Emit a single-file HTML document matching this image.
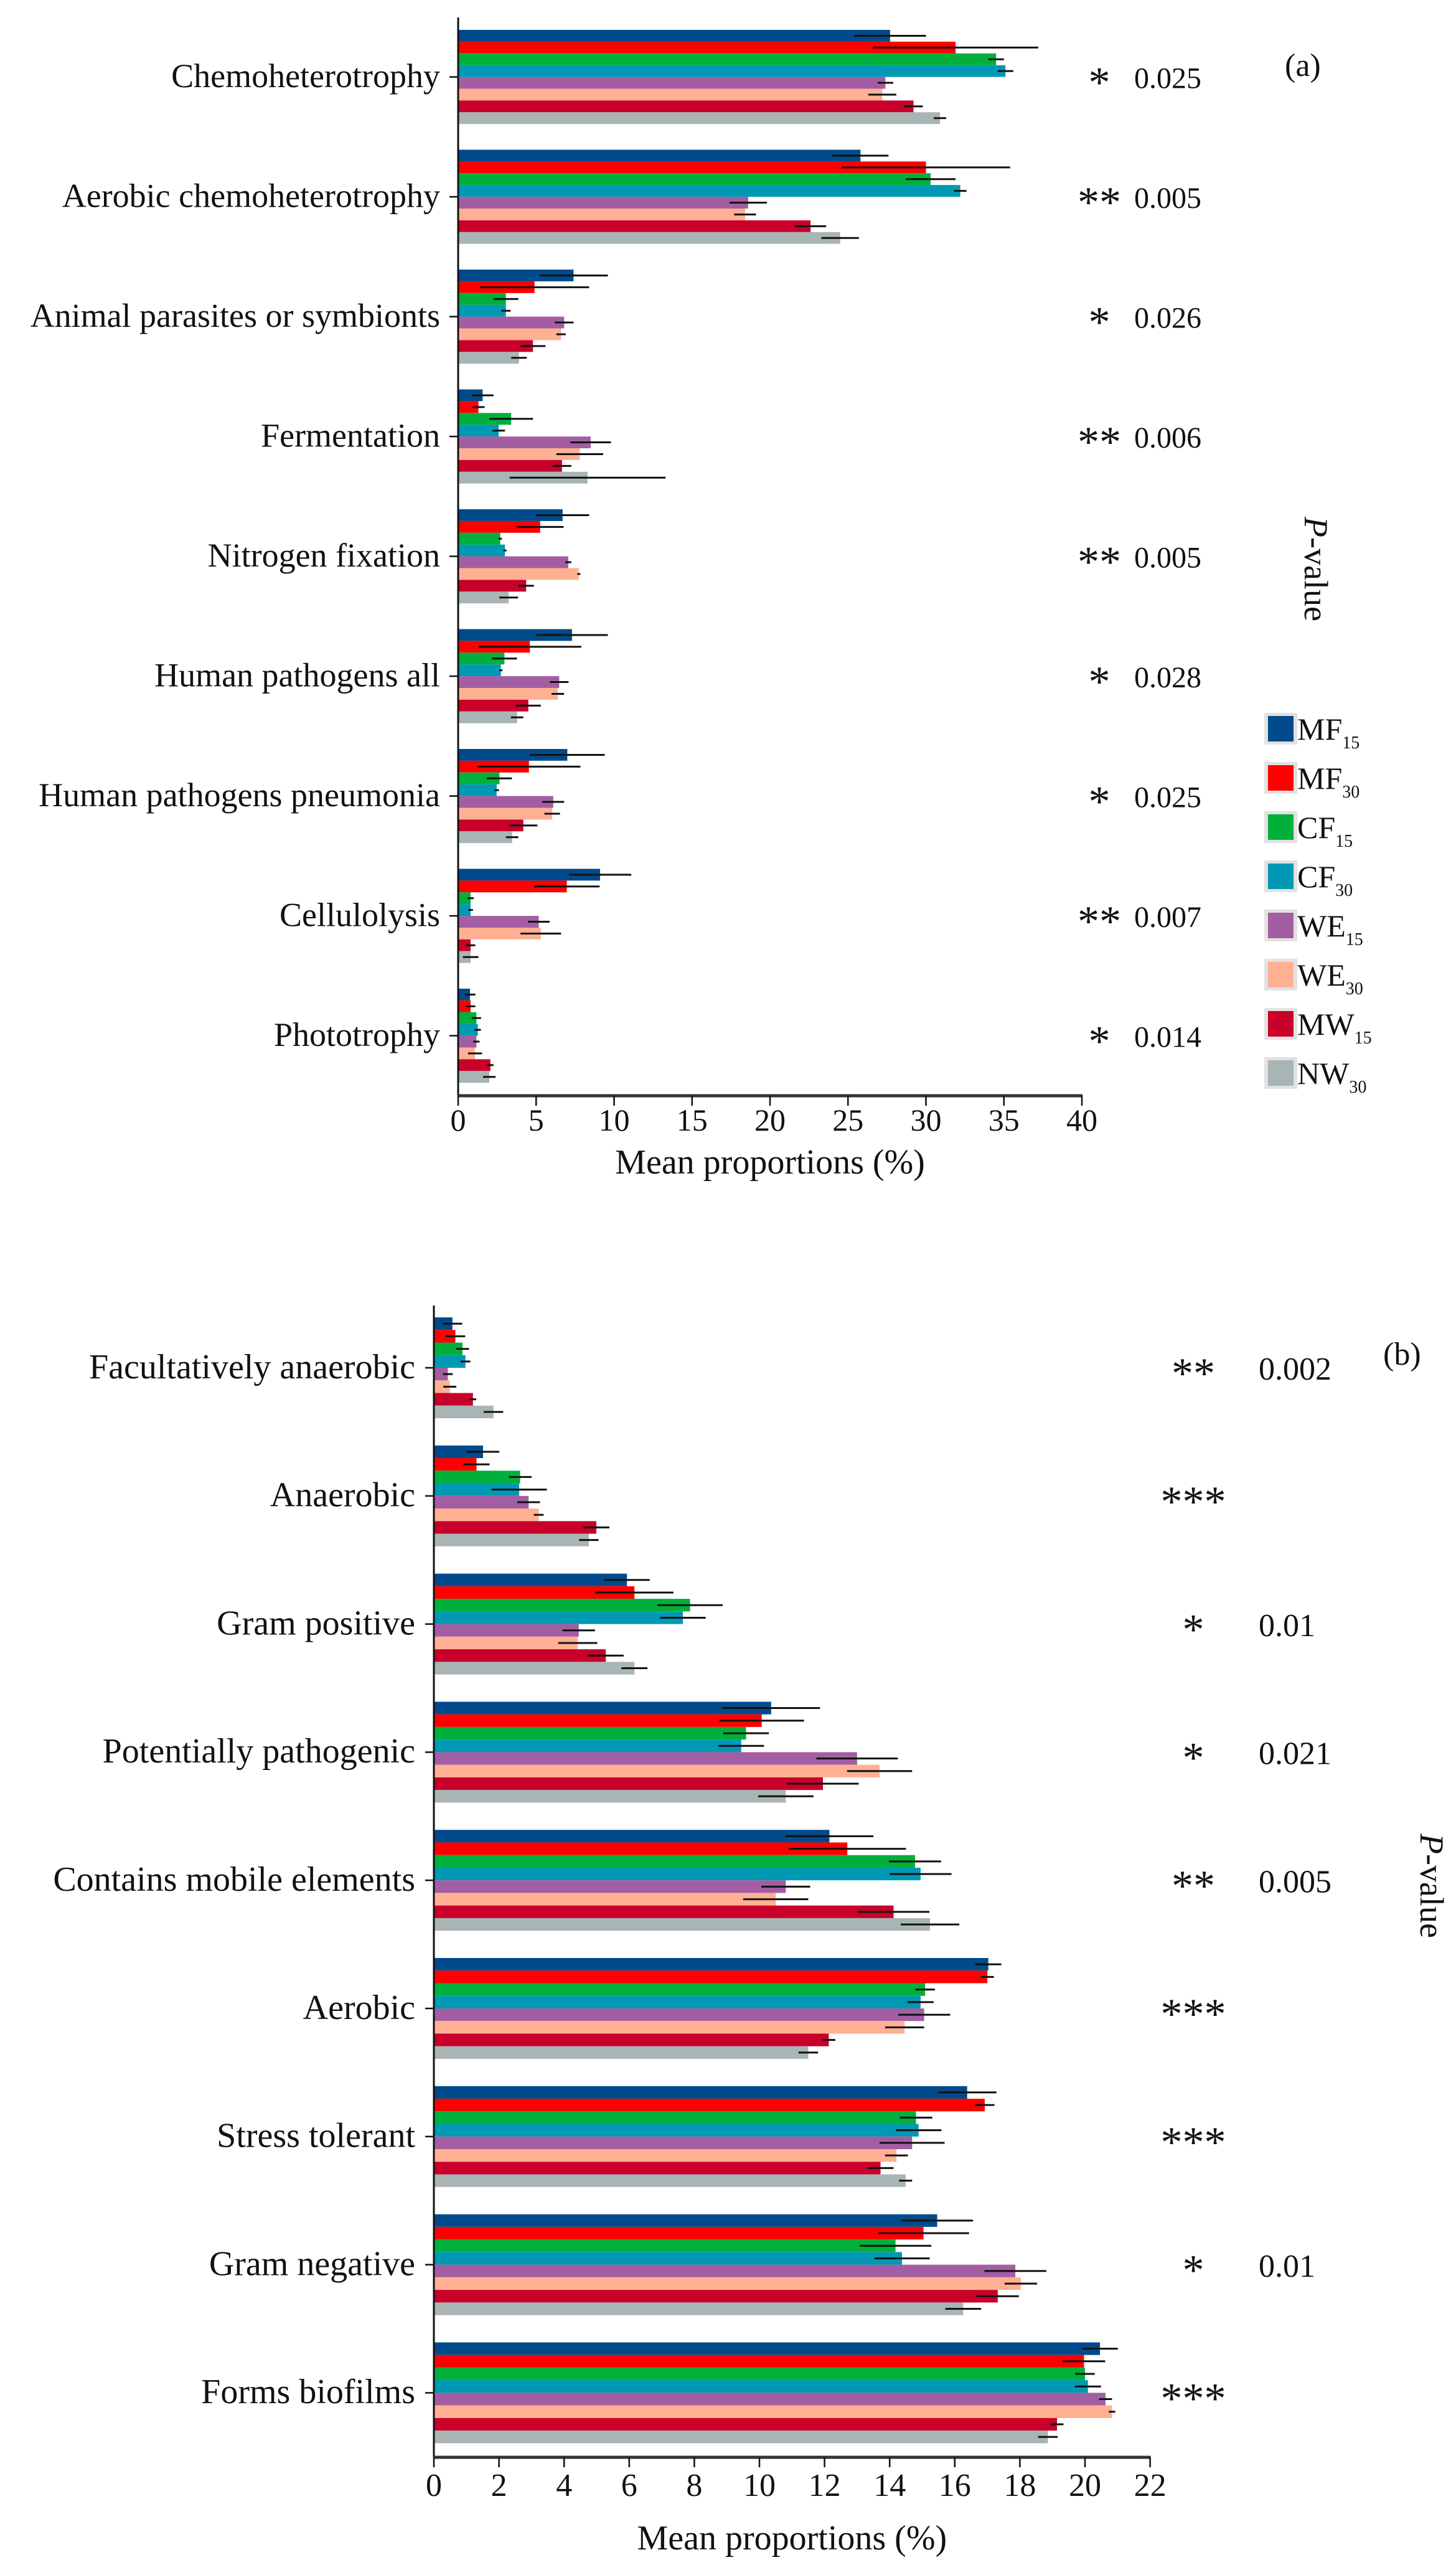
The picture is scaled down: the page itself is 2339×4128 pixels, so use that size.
<!DOCTYPE html>
<html><head><meta charset="utf-8">
<style>
html,body{margin:0;padding:0;background:#fff;}
svg{display:block;}
text{font-family:"Liberation Serif",serif;fill:#111;}
</style></head>
<body>
<svg id="fig" width="2339" height="4128" viewBox="0 0 2339 4128" xmlns="http://www.w3.org/2000/svg"></svg>
<script>
// ---------- Shared ----------
const seriesNames = ["MF15","MF30","CF15","CF30","WE15","WE30","MW15","NW30"];
const seriesColors = ["#004a8b","#ff0000","#00b03a","#0099b3","#a35ea3","#ffb092","#c8002a","#a9b5b5"];

// ---------- Panel (a) data ----------
const catsA = ["Chemoheterotrophy","Aerobic chemoheterotrophy","Animal parasites or symbionts","Fermentation","Nitrogen fixation","Human pathogens all","Human pathogens pneumonia","Cellulolysis","Phototrophy"];
const valsA = [
  [27.7,31.9,34.5,35.1,27.4,27.2,29.2,30.9],
  [25.8,30.0,30.3,32.2,18.6,18.4,22.6,24.5],
  [7.4,4.9,3.06,3.06,6.8,6.6,4.8,3.9],
  [1.57,1.3,3.4,2.6,8.5,7.8,6.66,8.3],
  [6.7,5.26,2.7,3.0,7.06,7.74,4.36,3.24],
  [7.3,4.6,2.97,2.74,6.48,6.39,4.5,3.78],
  [7.0,4.54,2.65,2.47,6.1,6.03,4.18,3.46],
  [9.1,6.97,0.8,0.8,5.17,5.3,0.8,0.8],
  [0.76,0.8,1.17,1.26,1.17,1.08,2.07,2.0]
];
const errA = [
  [2.3,5.3,0.5,0.5,0.5,0.9,0.6,0.4],
  [1.8,5.4,1.6,0.4,1.2,0.7,1.0,1.2],
  [2.2,3.5,0.8,0.3,0.6,0.3,0.8,0.5],
  [0.7,0.4,1.4,0.4,1.3,1.5,0.6,5.0],
  [1.7,1.5,0.1,0.1,0.2,0.1,0.5,0.6],
  [2.3,3.3,0.8,0.1,0.6,0.4,0.8,0.4],
  [2.4,3.3,0.8,0.15,0.7,0.5,0.9,0.4],
  [2.0,2.1,0.2,0.15,0.7,1.3,0.3,0.5],
  [0.35,0.3,0.3,0.2,0.2,0.45,0.2,0.4]
];
const starsA = ["*","**","*","**","**","*","*","**","*"];
const pvalsA = ["0.025","0.005","0.026","0.006","0.005","0.028","0.025","0.007","0.014"];
const ticksA = [0,5,10,15,20,25,30,35,40];

// ---------- Panel (b) data ----------
const catsB = ["Facultatively anaerobic","Anaerobic","Gram positive","Potentially pathogenic","Contains mobile elements","Aerobic","Stress tolerant","Gram negative","Forms biofilms"];
const valsB = [
  [0.57,0.66,0.88,0.97,0.43,0.49,1.2,1.83],
  [1.51,1.31,2.65,2.62,2.91,3.22,4.99,4.76],
  [5.93,6.16,7.87,7.65,4.45,4.42,5.28,6.16],
  [10.36,10.07,9.59,9.44,13.0,13.69,11.95,10.81],
  [12.15,12.7,14.78,14.95,10.81,10.5,14.12,15.24],
  [17.03,17.0,15.09,14.95,15.06,14.46,12.13,11.5],
  [16.38,16.92,14.81,14.89,14.69,14.21,13.72,14.49],
  [15.46,15.04,14.18,14.38,17.86,18.03,17.32,16.26],
  [20.46,19.97,20.0,20.09,20.63,20.83,19.14,18.86]
];
const errB = [
  [0.3,0.3,0.2,0.15,0.15,0.2,0.1,0.3],
  [0.5,0.4,0.35,0.85,0.35,0.15,0.4,0.3],
  [0.7,1.2,1.0,0.7,0.5,0.6,0.55,0.4],
  [1.5,1.3,0.7,0.7,1.25,1.0,1.1,0.85],
  [1.35,1.8,0.8,0.95,0.75,1.0,1.1,0.9],
  [0.4,0.2,0.3,0.4,0.8,0.6,0.2,0.3],
  [0.9,0.3,0.5,0.7,1.0,0.35,0.4,0.2],
  [1.1,1.4,1.1,0.85,0.95,0.5,0.65,0.55],
  [0.55,0.65,0.3,0.4,0.2,0.1,0.2,0.3]
];
const starsB = ["**","***","*","*","**","***","***","*","***"];
const pvalsB = ["0.002","","0.01","0.021","0.005","","","0.01",""];
const ticksB = [0,2,4,6,8,10,12,14,16,18,20,22];

const NS = "http://www.w3.org/2000/svg";
const svg = document.getElementById("fig");
function mk(tag, attrs, parent){
  const e = document.createElementNS(NS, tag);
  for (const k in attrs) e.setAttribute(k, attrs[k]);
  (parent||svg).appendChild(e);
  return e;
}

function drawPanel(cfg){
  const {cats, vals, errs, stars, pvals, ticks, x0, unit, top, spacing, barH, axisTop, axisBottom, labelRight, tickFont, labelFont, starX, pX, pFont, titleY, tickY, id} = cfg;
  const xs = v => x0 + v*unit;
  const g = mk("g", {});
  
  
  cats.forEach((c, ci) => {
    const gTop = top + ci*spacing;
    const center = gTop + barH*4;
    vals[ci].forEach((v, si) => {
      const y = gTop + si*barH;
      const r = mk("rect", {x:x0, y:y, width:Math.max(0, xs(v)-x0), height:barH, fill:seriesColors[si]}, g);
      
      
      const e = errs[ci][si];
      const l = mk("line", {x1:xs(v-e), x2:xs(v+e), y1:y+barH/2, y2:y+barH/2, stroke:"#111", "stroke-width":3}, g);
      
      
    });
    const t = mk("text", {x:labelRight, y:center + labelFont*0.3, "font-size":labelFont, "text-anchor":"end"}, g);
    t.textContent = c;
    
    
    mk("line", {x1:x0-14, x2:x0, y1:center, y2:center, stroke:"#111", "stroke-width":2.5}, g);
    const s = mk("text", {x:starX, y:center + 32, "font-size":70, "text-anchor":"middle"}, g);
    s.textContent = stars[ci];
    
    
    if (pvals[ci]) {
      const p = mk("text", {x:pX, y:center + pFont*0.37, "font-size":pFont}, g);
      p.textContent = pvals[ci];
      
      
    }
  });
  // axes
  const ya = mk("line", {x1:x0, x2:x0, y1:axisTop, y2:axisBottom, stroke:"#111", "stroke-width":3}, g);
  
  
  const xEnd = xs(ticks[ticks.length-1]);
  const xa = mk("line", {x1:x0-1, x2:xEnd+1, y1:axisBottom, y2:axisBottom, stroke:"#333", "stroke-width":5}, g);
  
  
  ticks.forEach(tv => {
    mk("line", {x1:xs(tv), x2:xs(tv), y1:axisBottom, y2:axisBottom+16, stroke:"#111", "stroke-width":2.5}, g);
    const tl = mk("text", {x:xs(tv), y:tickY, "font-size":tickFont, "text-anchor":"middle"}, g);
    tl.textContent = tv;
    
    
  });
  const ti = mk("text", {x:(x0+xEnd)/2, y:titleY, "font-size":56, "text-anchor":"middle"}, g);
  ti.textContent = "Mean proportions (%)";
  
  
}

drawPanel({id:"panel-a", cats:catsA, vals:valsA, errs:errA, stars:starsA, pvals:pvalsA, ticks:ticksA,
  x0:736, unit:25.05, top:48, spacing:192.5, barH:18.9, axisTop:28, axisBottom:1760,
  labelRight:707, tickFont:50, labelFont:54, starX:1766, pX:1822, pFont:48, titleY:1885, tickY:1816});
drawPanel({id:"panel-b", cats:catsB, vals:valsB, errs:errB, stars:starsB, pvals:pvalsB, ticks:ticksB,
  x0:697, unit:52.3, top:2116, spacing:205.8, barH:20.25, axisTop:2097, axisBottom:3947,
  labelRight:667, tickFont:52, labelFont:56, starX:1917, pX:2022, pFont:52, titleY:4095, tickY:4009});

// panel letters
const la = mk("text", {x:2064, y:122, "font-size":52}); la.textContent = "(a)";


const lb = mk("text", {x:2222, y:2192, "font-size":52}); lb.textContent = "(b)";



// P-value side titles
function pTitle(x, y, name){
  const t = mk("text", {x:x, y:y, "font-size":54, "text-anchor":"middle", transform:"rotate(90 "+x+" "+y+")"});
  t.innerHTML = '<tspan font-style="italic">P</tspan>-value';
  
  
}
pTitle(2096, 914, 'p-value-title-a');
pTitle(2282, 3029, 'p-value-title-b');

// legend
const leg = mk("g", {});


seriesNames.forEach((n, i) => {
  const y = 1150 + i*79;
  const entry = mk("g", {}, leg);
  
  
  mk("rect", {x:2031, y:y-5, width:53, height:51, fill:"#e2e2e2"}, entry);
  mk("rect", {x:2037, y:y, width:41, height:41, fill:seriesColors[i]}, entry);
  const t = mk("text", {x:2084, y:y+38, "font-size":50}, entry);
  t.innerHTML = n.slice(0,2) + '<tspan font-size="28" dy="14">' + n.slice(2) + '</tspan>';
});
</script>
</body></html>
